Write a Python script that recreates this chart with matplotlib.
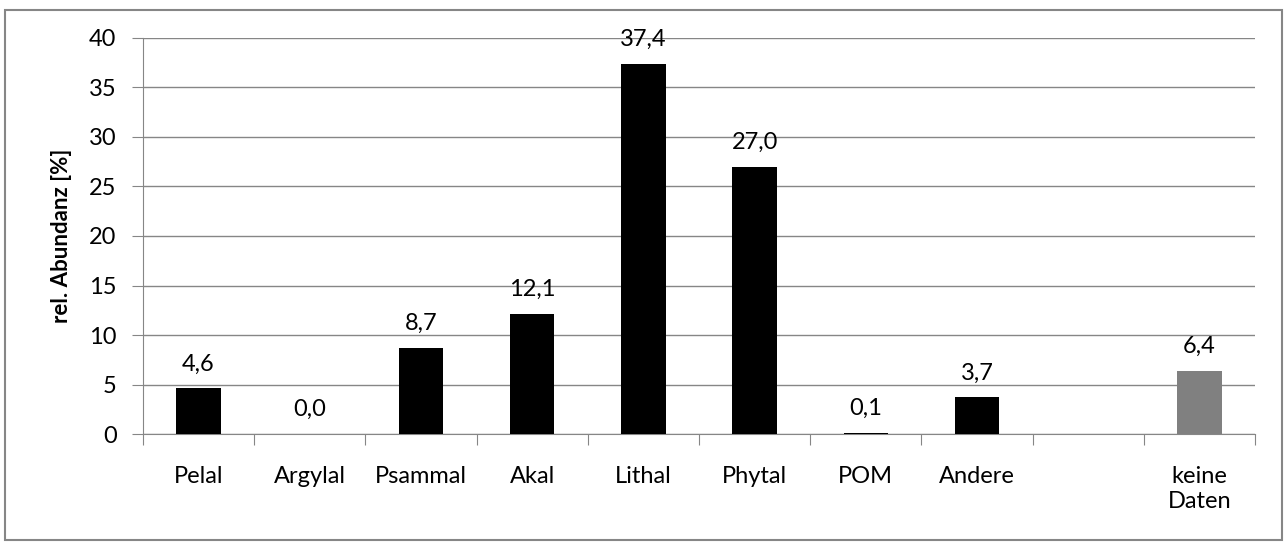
import matplotlib.pyplot as plt
from matplotlib.patches import Rectangle

categories = ['Pelal', 'Argylal', 'Psammal', 'Akal', 'Lithal', 'Phytal', 'POM', 'Andere', '', 'keine\nDaten']
values = [4.6, 0.0, 8.7, 12.1, 37.4, 27.0, 0.1, 3.7, None, 6.4]
labels = ['4,6', '0,0', '8,7', '12,1', '37,4', '27,0', '0,1', '3,7', '', '6,4']
colors = ['black'] * 9 + ['#808080']

plt.rcParams['font.family'] = ['Lato', 'DejaVu Sans']
grid_c = '#868686'
fs = 17

fig = plt.figure(figsize=(12.88, 5.48), dpi=100)
ax = fig.add_axes([0.111, 0.208, 0.8634, 0.7227])

x = list(range(len(categories)))
for i, v in enumerate(values):
    if v is None:
        continue
    ax.bar(i, v, width=0.4, color=colors[i], zorder=3)
    ax.annotate(labels[i], (i, v), xytext=(0, 10), textcoords='offset points',
                ha='center', va='bottom', fontsize=fs)

ax.set_xlim(-0.5, len(categories) - 0.5)
ax.set_ylim(0, 40)
ax.set_yticks(range(0, 41, 5))
ax.yaxis.grid(True, color=grid_c, linewidth=1, zorder=0)

ax.set_xticks([i - 0.5 for i in range(len(categories) + 1)])
ax.set_xticklabels([])
ax.set_xticks(x, minor=True)
ax.set_xticklabels(categories, minor=True, fontsize=fs, va='top', linespacing=1.25)
ax.tick_params(axis='x', which='major', length=8, color=grid_c, direction='out')
ax.tick_params(axis='x', which='minor', length=0, pad=23)
ax.tick_params(axis='y', length=8, color=grid_c, labelsize=fs, pad=11)

for s in ['top', 'right']:
    ax.spines[s].set_visible(False)
for s in ['left', 'bottom']:
    ax.spines[s].set_color(grid_c)

ax.set_ylabel('rel. Abundanz [%]', fontsize=fs - 1, fontweight='bold', labelpad=12)

fig.patches.append(Rectangle((5 / 1288, 8 / 548), 1277 / 1288, 530 / 548,
                             transform=fig.transFigure, fill=False,
                             edgecolor=grid_c, linewidth=1.5))

fig.savefig('out.png', dpi=100)
